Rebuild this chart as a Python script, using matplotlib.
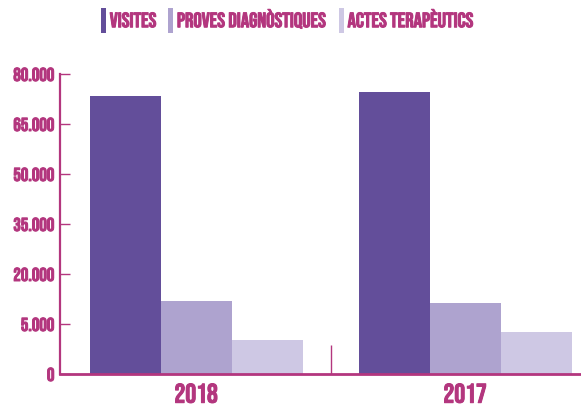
import matplotlib
matplotlib.use("Agg")
import matplotlib.pyplot as plt
import matplotlib.patheffects as pe
import numpy as np

categories = ["2018", "2017"]
series_names = ["VISITES", "PROVES DIAGNÒSTIQUES", "ACTES TERAPÈUTICS"]
visites = [73400, 74600]
proves = [12000, 11400]
actes = [200, 2600]
tick_values = [-10000, 5000, 20000, 35000, 50000, 65000, 80000]
tick_labels = ["0", "5.000", "20.000", "35.000", "50.000", "65.000", "80.000"]

colors = ["#634E9A", "#AEA3CF", "#CEC8E4"]
accent = "#B3367E"
FONT = ["Bebas Neue", "DejaVu Sans"]
plt.rcParams['font.family'] = FONT
bold = [pe.withStroke(linewidth=0.7, foreground=accent)]

fig = plt.figure(figsize=(5.81, 4.06), dpi=100)
ax = fig.add_axes([60/581, 31/406, 1 - 60/581, 300/406])

base = tick_values[0]
x = np.arange(len(categories))
w = 0.264
series = [visites, proves, actes]
handles = []
for i, (vals, c) in enumerate(zip(series, colors)):
    h = ax.bar(x + (i - 1) * w, np.array(vals) - base, bottom=base, width=w,
               color=c, label=series_names[i], linewidth=0)
    handles.append(h)

ax.set_xlim(-0.506, 1.431)
ax.set_ylim(base, 80000)
ax.set_yticks(tick_values)
ax.set_yticklabels(tick_labels)
ax.set_xticks(x)
ax.set_xticklabels(categories)
ax.set_xticks([0.5], minor=True)

for s in ["top", "right"]:
    ax.spines[s].set_visible(False)
ax.spines["left"].set_color(accent)
ax.spines["left"].set_linewidth(1.6)
ax.spines["bottom"].set_color(accent)
ax.spines["bottom"].set_linewidth(2.0)

ax.tick_params(axis="y", direction="in", length=7.5, width=1.0, color=accent,
               labelcolor=accent, labelsize=13.5, pad=4)
ax.tick_params(axis="x", which="major", length=0, labelcolor=accent,
               labelsize=19.5, pad=7)
ax.tick_params(axis="x", which="minor", direction="in", length=21, width=1.0,
               color=accent)
for lab in ax.get_yticklabels() + ax.get_xticklabels():
    lab.set_path_effects(bold)

leg = fig.legend(handles=handles, labels=series_names, loc="upper left",
                 bbox_to_anchor=(101/581, 1 - 9/406), ncol=3, frameon=False,
                 prop={"family": FONT, "size": 15},
                 handlelength=0.24, handleheight=1.44, handletextpad=0.18,
                 columnspacing=0.55, borderaxespad=0, borderpad=0)
for t in leg.get_texts():
    t.set_color(accent)
    t.set_path_effects(bold)

fig.savefig("out.png", dpi=100)
